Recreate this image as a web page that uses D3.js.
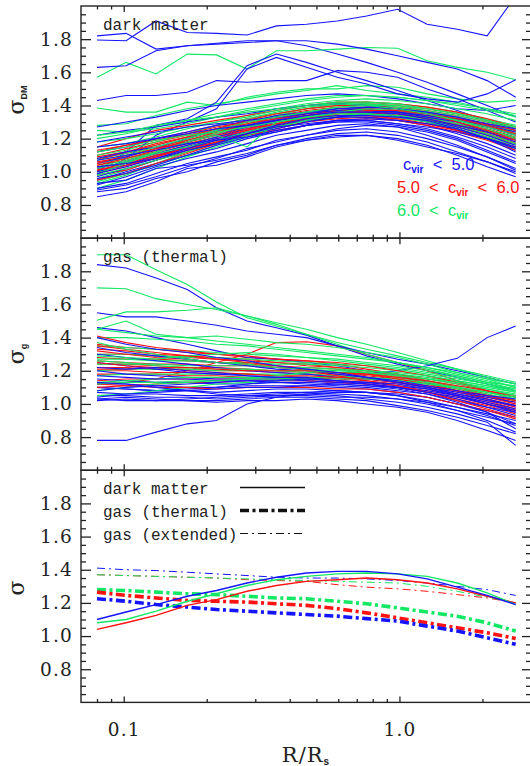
<!DOCTYPE html>
<html>
<head>
<meta charset="utf-8">
<script src="https://cdn.jsdelivr.net/npm/d3@7"></script>
<style>
  body { margin: 0; background: #fff; }
  svg { display: block; }
</style>
</head>
<body>
<div id="chart"></div>
<script>
// radius sampling points (R/Rs), shared by every profile
var radius = [0.080, 0.102, 0.131, 0.170, 0.217, 0.280, 0.358, 0.460, 0.595, 0.760, 0.985, 1.26, 1.62, 2.08, 2.64];

// dark matter profiles, split by concentration class
var dmBlue = [
  [1.82,1.835,1.74,1.76,1.775,1.79,1.79,1.76,1.71,1.66,1.60,1.54,1.47,1.40,1.33],
  [1.795,1.79,1.91,1.84,1.835,1.825,1.88,1.89,1.91,1.94,1.98,1.89,1.86,1.82,2.06],
  [1.63,1.64,1.73,1.76,1.77,1.78,1.79,1.79,1.77,1.74,1.70,1.66,1.62,1.55,1.45],
  [1.43,1.46,1.46,1.48,1.55,1.54,1.55,1.55,1.61,1.60,1.57,1.50,1.44,1.37,1.30],
  [1.00,1.12,1.28,1.32,1.42,1.64,1.71,1.66,1.60,1.55,1.49,1.43,1.37,1.31,1.26],
  [0.98,1.08,1.22,1.30,1.38,1.62,1.69,1.63,1.57,1.53,1.47,1.44,1.42,1.47,1.555],
  [1.27,1.30,1.33,1.37,1.40,1.42,1.44,1.46,1.47,1.46,1.44,1.41,1.38,1.37,1.40],
  [0.85,0.88,0.94,1.02,1.04,1.09,1.15,1.19,1.21,1.22,1.20,1.16,1.10,1.03,0.97],
  [0.88,0.90,0.96,1.00,1.06,1.10,1.16,1.20,1.23,1.24,1.22,1.18,1.12,1.06,0.99],
  [0.90,0.93,0.99,1.05,1.09,1.13,1.19,1.22,1.25,1.26,1.24,1.20,1.15,1.09,1.02],
  [0.92,0.97,1.03,1.08,1.12,1.17,1.22,1.25,1.28,1.29,1.27,1.24,1.19,1.12,1.05],
  [0.95,1.00,1.05,1.10,1.14,1.20,1.24,1.28,1.30,1.31,1.29,1.26,1.21,1.15,1.08],
  [0.97,1.02,1.07,1.13,1.17,1.22,1.26,1.30,1.33,1.33,1.31,1.28,1.23,1.17,1.10],
  [1.00,1.04,1.10,1.15,1.20,1.24,1.28,1.31,1.33,1.35,1.34,1.30,1.25,1.20,1.13],
  [1.02,1.06,1.11,1.16,1.21,1.26,1.30,1.33,1.36,1.37,1.35,1.32,1.27,1.22,1.16],
  [1.05,1.09,1.14,1.18,1.22,1.27,1.31,1.34,1.36,1.37,1.36,1.33,1.30,1.24,1.19],
  [1.08,1.12,1.15,1.20,1.25,1.28,1.32,1.35,1.38,1.38,1.37,1.35,1.31,1.27,1.22],
  [1.12,1.15,1.20,1.24,1.28,1.30,1.34,1.36,1.38,1.39,1.38,1.36,1.33,1.29,1.25],
  [1.18,1.21,1.24,1.27,1.29,1.31,1.33,1.35,1.37,1.38,1.36,1.34,1.31,1.28,1.24],
  [1.22,1.25,1.27,1.30,1.33,1.35,1.38,1.40,1.41,1.40,1.38,1.35,1.32,1.29,1.26],
  [0.93,0.95,1.02,1.04,1.07,1.11,1.16,1.19,1.22,1.22,1.19,1.15,1.11,1.06,1.00],
  [1.03,1.05,1.08,1.13,1.17,1.23,1.27,1.29,1.31,1.31,1.29,1.27,1.24,1.20,1.15],
  [0.99,1.03,1.08,1.14,1.19,1.23,1.28,1.32,1.34,1.34,1.33,1.31,1.26,1.20,1.12],
  [1.07,1.10,1.13,1.17,1.19,1.21,1.24,1.28,1.31,1.32,1.31,1.29,1.26,1.20,1.14],
  [0.96,0.99,1.04,1.10,1.16,1.21,1.25,1.28,1.30,1.30,1.28,1.25,1.20,1.13,1.06],
  [1.15,1.17,1.20,1.23,1.26,1.28,1.31,1.34,1.36,1.36,1.35,1.32,1.28,1.24,1.18],
  [0.89,0.92,0.97,1.03,1.08,1.14,1.18,1.22,1.26,1.28,1.27,1.22,1.16,1.09,1.01]
];
var dmRed = [
  [1.05,1.08,1.12,1.17,1.21,1.26,1.30,1.33,1.35,1.36,1.35,1.32,1.28,1.24,1.19],
  [1.02,1.06,1.11,1.16,1.21,1.25,1.29,1.32,1.34,1.35,1.34,1.31,1.27,1.22,1.17],
  [1.08,1.11,1.15,1.19,1.23,1.27,1.31,1.34,1.37,1.38,1.37,1.34,1.30,1.26,1.21],
  [1.00,1.04,1.09,1.14,1.19,1.24,1.28,1.31,1.33,1.34,1.33,1.30,1.26,1.21,1.15],
  [1.10,1.14,1.18,1.22,1.26,1.29,1.33,1.36,1.38,1.39,1.38,1.36,1.33,1.28,1.24],
  [1.04,1.07,1.12,1.18,1.23,1.28,1.32,1.35,1.37,1.37,1.36,1.33,1.29,1.25,1.20],
  [0.98,1.01,1.07,1.12,1.17,1.22,1.26,1.30,1.32,1.33,1.32,1.29,1.25,1.20,1.14],
  [1.06,1.09,1.14,1.20,1.25,1.30,1.34,1.37,1.39,1.40,1.39,1.37,1.34,1.30,1.26],
  [1.12,1.16,1.20,1.24,1.28,1.32,1.35,1.38,1.40,1.41,1.40,1.38,1.35,1.31,1.27],
  [1.03,1.05,1.10,1.15,1.19,1.23,1.27,1.30,1.33,1.35,1.35,1.33,1.29,1.23,1.17],
  [1.07,1.12,1.16,1.21,1.24,1.28,1.31,1.33,1.35,1.36,1.34,1.31,1.27,1.23,1.18],
  [0.99,1.03,1.09,1.15,1.20,1.25,1.29,1.33,1.36,1.37,1.36,1.34,1.31,1.27,1.22],
  [1.15,1.20,1.25,1.28,1.31,1.34,1.37,1.40,1.42,1.42,1.41,1.39,1.36,1.32,1.27],
  [1.01,1.05,1.10,1.14,1.18,1.22,1.25,1.28,1.31,1.32,1.31,1.28,1.24,1.19,1.13],
  [1.09,1.12,1.17,1.21,1.26,1.31,1.35,1.38,1.40,1.40,1.38,1.35,1.31,1.27,1.23],
  [1.05,1.10,1.14,1.18,1.22,1.26,1.29,1.32,1.34,1.34,1.32,1.29,1.25,1.20,1.15],
  [0.95,0.99,1.05,1.11,1.17,1.23,1.28,1.32,1.35,1.36,1.35,1.32,1.28,1.24,1.19],
  [1.13,1.16,1.19,1.23,1.27,1.30,1.33,1.35,1.37,1.38,1.37,1.35,1.32,1.29,1.25],
  [1.04,1.08,1.13,1.19,1.24,1.29,1.32,1.34,1.36,1.38,1.37,1.35,1.30,1.25,1.20],
  [1.01,1.04,1.08,1.13,1.18,1.23,1.28,1.32,1.35,1.37,1.37,1.35,1.32,1.28,1.23]
];
var dmGreen = [
  [1.57,1.66,1.59,1.71,1.705,1.62,1.73,1.73,1.74,1.75,1.745,1.67,1.63,1.60,1.555],
  [1.385,1.36,1.36,1.42,1.40,1.45,1.48,1.50,1.50,1.52,1.51,1.47,1.44,1.42,1.43],
  [1.28,1.29,1.34,1.38,1.41,1.44,1.47,1.49,1.52,1.49,1.47,1.45,1.42,1.38,1.33],
  [0.90,0.95,1.02,1.09,1.15,1.21,1.26,1.30,1.33,1.34,1.33,1.30,1.26,1.21,1.15],
  [0.93,0.98,1.05,1.12,1.18,1.24,1.29,1.33,1.36,1.37,1.36,1.34,1.30,1.25,1.20],
  [0.96,1.01,1.07,1.13,1.18,1.23,1.28,1.32,1.35,1.36,1.35,1.33,1.29,1.24,1.19],
  [1.00,1.04,1.10,1.16,1.21,1.27,1.31,1.35,1.38,1.39,1.38,1.36,1.33,1.29,1.24],
  [1.03,1.07,1.12,1.18,1.24,1.29,1.34,1.38,1.41,1.42,1.41,1.39,1.36,1.32,1.28],
  [1.08,1.11,1.16,1.21,1.26,1.31,1.35,1.38,1.40,1.41,1.40,1.37,1.34,1.30,1.26],
  [1.15,1.17,1.21,1.26,1.30,1.34,1.38,1.41,1.43,1.44,1.43,1.41,1.38,1.35,1.31],
  [1.20,1.23,1.27,1.31,1.35,1.38,1.41,1.44,1.46,1.46,1.45,1.43,1.40,1.37,1.34],
  [1.25,1.24,1.26,1.29,1.33,1.37,1.40,1.43,1.45,1.46,1.45,1.43,1.41,1.38,1.35],
  [0.98,1.02,1.07,1.12,1.17,1.22,1.27,1.31,1.34,1.35,1.34,1.31,1.27,1.22,1.16],
  [1.05,1.08,1.13,1.19,1.23,1.28,1.32,1.36,1.38,1.38,1.36,1.33,1.29,1.25,1.21],
  [1.10,1.13,1.18,1.23,1.28,1.32,1.36,1.39,1.41,1.41,1.39,1.36,1.32,1.28,1.23],
  [0.94,0.99,1.04,1.10,1.16,1.22,1.27,1.31,1.34,1.35,1.34,1.32,1.28,1.23,1.17],
  [1.02,1.06,1.11,1.15,1.19,1.24,1.28,1.32,1.35,1.37,1.37,1.35,1.32,1.28,1.23],
  [1.18,1.20,1.23,1.27,1.30,1.33,1.37,1.40,1.42,1.42,1.41,1.38,1.35,1.31,1.27],
  [1.12,1.15,1.19,1.22,1.24,1.27,1.30,1.33,1.36,1.38,1.37,1.35,1.31,1.27,1.22],
  [0.99,1.05,1.12,1.18,1.22,1.15,1.30,1.33,1.35,1.35,1.33,1.30,1.26,1.20,1.14],
  [1.07,1.10,1.15,1.20,1.25,1.30,1.33,1.36,1.39,1.40,1.40,1.38,1.35,1.31,1.27],
  [1.22,1.24,1.28,1.31,1.33,1.36,1.38,1.40,1.41,1.40,1.38,1.35,1.31,1.26,1.20]
];

// thermal gas profiles
var gasBlue = [
  [1.84,1.82,1.76,1.69,1.58,1.50,1.46,1.415,1.35,1.29,1.24,1.20,1.16,1.12,1.08],
  [1.55,1.525,1.525,1.50,1.475,1.44,1.42,1.40,1.35,1.31,1.27,1.24,1.20,1.16,1.12],
  [1.46,1.44,1.40,1.36,1.32,1.28,1.27,1.25,1.23,1.20,1.17,1.13,1.08,1.03,0.98],
  [0.78,0.78,0.83,0.88,0.90,1.00,1.04,1.06,1.07,1.07,1.06,1.04,1.00,0.95,0.88],
  [1.10,1.09,1.08,1.09,1.10,1.12,1.14,1.15,1.16,1.18,1.20,1.23,1.275,1.40,1.47],
  [1.02,1.03,1.02,1.02,1.01,1.02,1.02,1.03,1.02,1.00,0.98,0.95,0.90,0.84,0.78],
  [1.03,1.04,1.03,1.02,1.02,1.03,1.04,1.04,1.03,1.02,0.99,0.96,0.92,0.87,0.82],
  [1.05,1.05,1.04,1.04,1.03,1.04,1.05,1.06,1.05,1.03,1.01,0.98,0.94,0.89,0.75],
  [1.07,1.06,1.06,1.05,1.05,1.06,1.07,1.07,1.06,1.05,1.03,1.00,0.96,0.92,0.88],
  [1.10,1.09,1.08,1.08,1.07,1.08,1.09,1.09,1.08,1.07,1.05,1.02,0.98,0.94,0.90],
  [1.12,1.12,1.11,1.10,1.10,1.11,1.11,1.11,1.10,1.09,1.07,1.04,1.00,0.96,0.92],
  [1.15,1.14,1.13,1.13,1.12,1.12,1.13,1.12,1.11,1.10,1.08,1.06,1.02,0.98,0.95],
  [1.20,1.18,1.17,1.16,1.15,1.15,1.15,1.14,1.13,1.12,1.10,1.08,1.05,1.01,0.97],
  [1.25,1.23,1.21,1.19,1.18,1.17,1.16,1.15,1.14,1.13,1.11,1.09,1.06,1.03,0.99],
  [1.30,1.28,1.26,1.24,1.22,1.20,1.19,1.18,1.16,1.15,1.13,1.10,1.07,1.04,1.01],
  [1.34,1.31,1.29,1.27,1.25,1.23,1.21,1.20,1.18,1.16,1.14,1.11,1.08,1.05,1.03],
  [1.04,1.06,1.07,1.08,1.09,1.10,1.10,1.11,1.12,1.11,1.10,1.07,1.03,0.98,0.93],
  [1.08,1.10,1.11,1.12,1.13,1.14,1.14,1.15,1.14,1.13,1.12,1.09,1.05,1.00,0.95],
  [1.17,1.16,1.15,1.15,1.14,1.14,1.13,1.13,1.12,1.11,1.09,1.06,1.01,0.95,0.85],
  [1.40,1.36,1.33,1.31,1.28,1.26,1.23,1.21,1.19,1.16,1.13,1.10,1.06,1.02,0.99],
  [1.22,1.21,1.22,1.20,1.19,1.17,1.16,1.16,1.14,1.12,1.10,1.07,1.04,1.00,0.96],
  [1.03,1.02,1.02,1.03,1.04,1.05,1.06,1.07,1.08,1.07,1.05,1.01,0.96,0.90,0.83],
  [1.13,1.12,1.10,1.08,1.06,1.05,1.05,1.05,1.04,1.04,1.03,1.01,0.98,0.93,0.87]
];
var gasRed = [
  [1.12,1.13,1.15,1.20,1.25,1.30,1.37,1.375,1.35,1.30,1.25,1.20,1.14,1.08,1.02],
  [1.36,1.34,1.33,1.31,1.30,1.28,1.27,1.26,1.24,1.21,1.18,1.14,1.10,1.05,1.00],
  [1.33,1.32,1.30,1.29,1.28,1.27,1.25,1.24,1.22,1.20,1.17,1.14,1.10,1.06,1.02],
  [1.30,1.30,1.29,1.28,1.27,1.26,1.25,1.23,1.22,1.20,1.18,1.15,1.12,1.08,1.04],
  [1.28,1.27,1.27,1.26,1.25,1.24,1.23,1.22,1.21,1.19,1.16,1.13,1.09,1.05,1.01],
  [1.26,1.25,1.24,1.24,1.23,1.23,1.22,1.21,1.19,1.17,1.15,1.12,1.08,1.03,0.98],
  [1.24,1.24,1.23,1.22,1.22,1.21,1.20,1.19,1.18,1.16,1.14,1.11,1.07,1.03,0.99],
  [1.22,1.22,1.21,1.21,1.20,1.20,1.19,1.18,1.17,1.15,1.13,1.10,1.06,1.02,0.97],
  [1.20,1.20,1.19,1.19,1.18,1.18,1.17,1.16,1.15,1.14,1.12,1.09,1.05,1.01,0.96],
  [1.18,1.18,1.18,1.17,1.17,1.16,1.16,1.15,1.14,1.13,1.11,1.08,1.05,1.00,0.95],
  [1.14,1.15,1.15,1.15,1.15,1.15,1.15,1.14,1.13,1.12,1.10,1.07,1.03,0.99,0.94],
  [1.10,1.11,1.12,1.13,1.13,1.14,1.14,1.14,1.13,1.12,1.10,1.07,1.04,1.00,0.96],
  [1.41,1.37,1.34,1.32,1.30,1.29,1.27,1.26,1.25,1.23,1.20,1.17,1.13,1.08,1.04],
  [1.32,1.30,1.28,1.27,1.25,1.24,1.22,1.21,1.19,1.18,1.15,1.12,1.08,1.04,1.00],
  [1.25,1.23,1.22,1.20,1.19,1.18,1.17,1.17,1.16,1.15,1.13,1.11,1.08,1.05,1.02],
  [1.12,1.11,1.10,1.10,1.09,1.10,1.10,1.10,1.09,1.09,1.07,1.04,1.00,0.96,0.91],
  [1.35,1.33,1.31,1.29,1.27,1.25,1.23,1.20,1.17,1.14,1.11,1.07,1.02,0.97,0.92],
  [1.21,1.21,1.22,1.22,1.21,1.20,1.20,1.20,1.19,1.18,1.16,1.14,1.11,1.08,1.05]
];
var gasGreen = [
  [1.90,1.90,1.81,1.72,1.615,1.52,1.47,1.42,1.36,1.30,1.25,1.21,1.17,1.13,1.11],
  [1.70,1.695,1.635,1.60,1.57,1.53,1.49,1.45,1.40,1.36,1.31,1.26,1.21,1.16,1.12],
  [1.505,1.555,1.555,1.565,1.58,1.53,1.48,1.42,1.37,1.33,1.29,1.25,1.21,1.17,1.13],
  [1.45,1.50,1.42,1.40,1.41,1.39,1.37,1.36,1.34,1.31,1.28,1.24,1.19,1.15,1.10],
  [1.45,1.43,1.41,1.40,1.38,1.36,1.34,1.32,1.30,1.28,1.25,1.22,1.18,1.14,1.10],
  [1.40,1.40,1.39,1.38,1.36,1.35,1.33,1.31,1.29,1.27,1.25,1.22,1.19,1.15,1.12],
  [1.35,1.34,1.33,1.32,1.31,1.30,1.29,1.28,1.27,1.25,1.23,1.20,1.17,1.13,1.09],
  [1.30,1.30,1.29,1.28,1.28,1.27,1.26,1.25,1.24,1.23,1.21,1.18,1.15,1.12,1.08],
  [1.27,1.27,1.26,1.26,1.25,1.25,1.24,1.24,1.23,1.22,1.20,1.17,1.14,1.11,1.07],
  [1.24,1.24,1.24,1.23,1.23,1.23,1.22,1.22,1.21,1.20,1.18,1.16,1.13,1.09,1.06],
  [1.20,1.21,1.21,1.21,1.20,1.20,1.20,1.19,1.19,1.18,1.16,1.14,1.11,1.08,1.04],
  [1.17,1.18,1.18,1.18,1.18,1.18,1.18,1.18,1.17,1.16,1.15,1.13,1.10,1.07,1.03],
  [1.13,1.14,1.15,1.16,1.16,1.16,1.16,1.16,1.16,1.15,1.14,1.12,1.09,1.06,1.02],
  [1.08,1.10,1.12,1.13,1.14,1.15,1.15,1.16,1.16,1.15,1.14,1.12,1.10,1.07,1.04],
  [1.05,1.06,1.08,1.10,1.12,1.13,1.14,1.15,1.15,1.15,1.14,1.12,1.10,1.07,1.04],
  [1.29,1.28,1.27,1.29,1.30,1.31,1.30,1.28,1.26,1.24,1.22,1.19,1.16,1.12,1.09],
  [1.26,1.25,1.23,1.22,1.21,1.21,1.20,1.20,1.19,1.19,1.17,1.15,1.13,1.10,1.07],
  [1.37,1.33,1.30,1.27,1.25,1.24,1.22,1.21,1.20,1.19,1.17,1.15,1.12,1.09,1.05],
  [1.12,1.13,1.13,1.14,1.14,1.15,1.17,1.19,1.20,1.20,1.19,1.17,1.14,1.11,1.08]
];

// mean profiles (bottom panel)
var meanDmBlue   = [1.10,1.145,1.19,1.24,1.275,1.32,1.355,1.38,1.39,1.39,1.375,1.345,1.295,1.245,1.19];
var meanDmRed    = [1.04,1.08,1.125,1.185,1.22,1.27,1.305,1.33,1.34,1.35,1.34,1.32,1.285,1.24,1.20];
var meanDmGreen  = [1.08,1.10,1.15,1.21,1.255,1.305,1.34,1.36,1.375,1.38,1.375,1.36,1.32,1.26,1.19];
var meanThBlue   = [1.225,1.21,1.19,1.175,1.16,1.15,1.14,1.13,1.12,1.105,1.09,1.06,1.03,0.99,0.95];
var meanThRed    = [1.265,1.245,1.23,1.215,1.21,1.205,1.195,1.185,1.165,1.14,1.11,1.08,1.05,1.02,0.985];
var meanThGreen  = [1.28,1.275,1.265,1.255,1.25,1.24,1.23,1.225,1.21,1.195,1.17,1.145,1.12,1.08,1.03];
var meanExtBlue  = [1.41,1.40,1.395,1.385,1.375,1.365,1.355,1.35,1.35,1.345,1.335,1.32,1.30,1.28,1.245];
var meanExtRed   = [1.37,1.365,1.36,1.355,1.35,1.34,1.335,1.33,1.31,1.295,1.285,1.27,1.25,1.23,1.20];
var meanExtGreen = [1.37,1.365,1.36,1.355,1.35,1.345,1.34,1.335,1.33,1.325,1.32,1.30,1.27,1.235,1.20];

// ticks
var yMajor = [0.8, 1.0, 1.2, 1.4, 1.6, 1.8];
var xMajor = [0.1, 1.0];
var xMinor = [0.08, 0.09, 0.2, 0.3, 0.4, 0.5, 0.6, 0.7, 0.8, 0.9, 2, 3];

var colors = { blue: "#1414ff", red: "#ff1212", green: "#12e864" };

var width = 530, height = 766;
var plotLeft = 81, plotRight = 531, plotTop = 6, panelH = 232.13;

var svg = d3.select("#chart").append("svg")
  .attr("width", width)
  .attr("height", height);

var x = d3.scaleLog().domain([0.07, 3.0]).range([plotLeft, plotRight]);

var yMinor = d3.range(13, 40).filter(function(k) { return k % 4 != 0; })
  .map(function(k) { return k * 0.05; });

var serif = "DejaVu Serif";

function makePanel(i) {
  var y0 = plotTop + i * panelH;
  var y = d3.scaleLinear().domain([0.6, 2.0]).range([y0 + panelH, y0]);
  var g = svg.append("g");

  g.append("clipPath").attr("id", "clip" + i)
    .append("rect")
    .attr("x", plotLeft).attr("y", y0)
    .attr("width", plotRight - plotLeft).attr("height", panelH);

  var lines = g.append("g").attr("clip-path", "url(#clip" + i + ")");

  // axes: ticks pointing inward on all four sides
  var axes = g.append("g").attr("class", "axes");
  axes.append("g").attr("transform", "translate(" + plotLeft + ",0)")
    .call(d3.axisLeft(y).tickValues(yMajor).tickSize(-10).tickPadding(8)
      .tickFormat(d3.format(".1f")));
  axes.append("g").attr("transform", "translate(" + plotLeft + ",0)")
    .call(d3.axisLeft(y).tickValues(yMinor).tickSize(-5).tickFormat(""));
  axes.append("g").attr("transform", "translate(" + plotRight + ",0)")
    .call(d3.axisRight(y).tickValues(yMajor).tickSize(-9).tickFormat(""));
  axes.append("g").attr("transform", "translate(" + plotRight + ",0)")
    .call(d3.axisRight(y).tickValues(yMinor).tickSize(-5).tickFormat(""));

  axes.append("g").attr("transform", "translate(0," + (y0 + panelH) + ")")
    .call(d3.axisBottom(x).tickValues(xMajor).tickSize(-6).tickPadding(20)
      .tickFormat(i == 2 ? d3.format(".1f") : ""));
  axes.append("g").attr("transform", "translate(0," + (y0 + panelH) + ")")
    .call(d3.axisBottom(x).tickValues(xMinor).tickSize(-3.5).tickFormat(""));
  axes.append("g").attr("transform", "translate(0," + y0 + ")")
    .call(d3.axisTop(x).tickValues(xMajor).tickSize(-6).tickFormat(""));
  axes.append("g").attr("transform", "translate(0," + y0 + ")")
    .call(d3.axisTop(x).tickValues(xMinor).tickSize(-3.5).tickFormat(""));

  axes.selectAll(".domain").remove();
  axes.selectAll("line").attr("stroke", "#222").attr("stroke-width", 1.3);
  axes.selectAll("text")
    .attr("font-family", serif)
    .attr("font-size", "18.5px")
    .attr("letter-spacing", "1.2px")
    .attr("fill", "#222");

  g.append("rect")
    .attr("x", plotLeft).attr("y", y0)
    .attr("width", plotRight - plotLeft).attr("height", panelH)
    .attr("fill", "none")
    .attr("stroke", "#222")
    .attr("stroke-width", 1.4);

  return { y: y, y0: y0, g: g, lines: lines };
}

function drawSet(p, sets) {
  var line = d3.line()
    .x(function(d, i) { return x(radius[i]); })
    .y(function(d) { return p.y(d); });
  // interleave colours so no class is always on top
  var n = d3.max(sets, function(s) { return s.data.length; });
  var all = [];
  for (var k = 0; k < n; k++) {
    sets.forEach(function(s) {
      if (k < s.data.length) all.push({ v: s.data[k], c: s.color });
    });
  }
  p.lines.selectAll("path.prof").data(all).enter()
    .append("path")
    .attr("class", "prof")
    .attr("d", function(d) { return line(d.v); })
    .attr("fill", "none")
    .attr("stroke", function(d) { return d.c; })
    .attr("stroke-width", 1.1);
}

var p1 = makePanel(0);
var p2 = makePanel(1);
var p3 = makePanel(2);

drawSet(p1, [
  { data: dmBlue, color: colors.blue },
  { data: dmRed, color: colors.red },
  { data: dmGreen, color: colors.green }
]);
drawSet(p2, [
  { data: gasBlue, color: colors.blue },
  { data: gasRed, color: colors.red },
  { data: gasGreen, color: colors.green }
]);

// bottom panel: means
var line3 = d3.line()
  .x(function(d, i) { return x(radius[i]); })
  .y(function(d) { return p3.y(d); });

var means = [
  { v: meanExtBlue, c: colors.blue, w: 1, dash: "8,4,2,4" },
  { v: meanExtRed, c: colors.red, w: 1, dash: "8,4,2,4" },
  { v: meanExtGreen, c: colors.green, w: 1, dash: "8,4,2,4" },
  { v: meanThGreen, c: colors.green, w: 3.6, dash: "9,3.5,3,3.5" },
  { v: meanThRed, c: colors.red, w: 3.6, dash: "9,3.5,3,3.5" },
  { v: meanThBlue, c: colors.blue, w: 3.6, dash: "9,3.5,3,3.5" },
  { v: meanDmRed, c: colors.red, w: 1.4, dash: null },
  { v: meanDmGreen, c: colors.green, w: 1.4, dash: null },
  { v: meanDmBlue, c: colors.blue, w: 1.4, dash: null }
];

p3.lines.selectAll("path.mean").data(means).enter()
  .append("path")
  .attr("class", "mean")
  .attr("d", function(d) { return line3(d.v); })
  .attr("fill", "none")
  .attr("stroke", function(d) { return d.c; })
  .attr("stroke-width", function(d) { return d.w; })
  .attr("stroke-dasharray", function(d) { return d.dash; });

// bottom panel legend
var legendRows = [
  { label: "dark matter", w: 1.4, dash: null, ty: 494 },
  { label: "gas (thermal)", w: 3.4, dash: "9,3.5,3,3.5", ty: 517 },
  { label: "gas (extended)", w: 1, dash: "8,4,2,4", ty: 540 }
];
legendRows.forEach(function(r) {
  svg.append("text")
    .attr("x", 103).attr("y", r.ty)
    .attr("font-family", "Liberation Mono")
    .attr("font-size", "16px")
    .attr("fill", "#222")
    .text(r.label);
  svg.append("line")
    .attr("x1", 240).attr("x2", 305)
    .attr("y1", r.ty - 6.5).attr("y2", r.ty - 6.5)
    .attr("stroke", "#111")
    .attr("stroke-width", r.w)
    .attr("stroke-dasharray", r.dash);
});

// panel titles
svg.append("text").attr("x", 103).attr("y", 30)
  .attr("font-family", "Liberation Mono").attr("font-size", "16px").attr("fill", "#222")
  .text("dark matter");
svg.append("text").attr("x", 103).attr("y", 262)
  .attr("font-family", "Liberation Mono").attr("font-size", "16px").attr("fill", "#222")
  .text("gas (thermal)");

// concentration legend (top panel)
var cLegend = [
  { pre: "", post: "  <  5.0", c: colors.blue, x: 403, y: 170 },
  { pre: "5.0  <  ", post: "  <  6.0", c: colors.red, x: 397, y: 193 },
  { pre: "6.0  <  ", post: "", c: colors.green, x: 397, y: 216 }
];
cLegend.forEach(function(d) {
  var t = svg.append("text")
    .attr("x", d.x).attr("y", d.y)
    .attr("font-family", "Liberation Sans")
    .attr("font-size", "16.5px")
    .attr("fill", d.c)
    .style("white-space", "pre");
  t.append("tspan").text(d.pre + "c");
  t.append("tspan").attr("font-size", "10px").attr("font-weight", "bold")
    .attr("dy", 3).text("vir");
  t.append("tspan").attr("dy", -3).text(d.post);
});

// y axis titles
function yTitle(cy, sub) {
  var t = svg.append("text")
    .attr("transform", "translate(23.5," + cy + ") rotate(-90)")
    .attr("text-anchor", "middle")
    .attr("font-family", serif)
    .attr("font-size", "22px")
    .attr("fill", "#222");
  t.append("tspan").text("σ");
  if (sub) {
    t.append("tspan")
      .attr("font-family", "Liberation Sans")
      .attr("font-weight", "bold")
      .attr("font-size", "9px")
      .attr("dy", 3)
      .text(sub);
  }
}
yTitle(100, "DM");
yTitle(354, "g");
yTitle(588, null);

// x axis title
var xt = svg.append("text")
  .attr("x", 306).attr("y", 761.5)
  .attr("text-anchor", "middle")
  .attr("font-family", serif)
  .attr("font-size", "21px")
  .attr("letter-spacing", "1px")
  .attr("fill", "#222");
xt.append("tspan").text("R/R");
xt.append("tspan")
  .attr("font-family", "Liberation Sans")
  .attr("font-weight", "bold")
  .attr("font-size", "10px")
  .attr("dy", 3)
  .text("s");
</script>
</body>
</html>
